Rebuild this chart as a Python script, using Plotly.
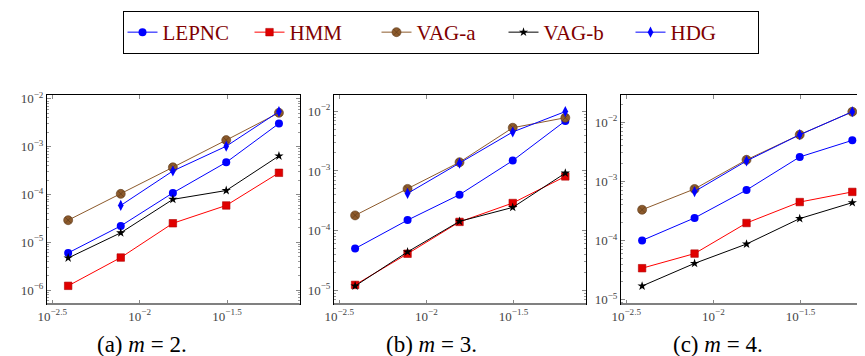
import plotly.graph_objects as go

# ---- data ----
h = [0.0039, 0.0078, 0.0155, 0.0313, 0.0627]
series_names = ["LEPNC", "HMM", "VAG-a", "VAG-b", "HDG"]

m2_lepnc = [6.0e-6, 2.2e-5, 1.08e-4, 4.7e-4, 3.05e-3]
m2_hmm = [1.23e-6, 4.8e-6, 2.5e-5, 5.9e-5, 2.84e-4]
m2_vaga = [2.9e-5, 1.03e-4, 3.7e-4, 1.37e-3, 5.1e-3]
m2_vagb = [4.7e-6, 1.58e-5, 7.9e-5, 1.21e-4, 6.4e-4]
m2_hdg = [None, 5.9e-5, 3.1e-4, 1.02e-3, 5.4e-3]

m3_lepnc = [5.0e-5, 1.5e-4, 4.0e-4, 1.49e-3, 6.9e-3]
m3_hmm = [1.23e-5, 4.1e-5, 1.4e-4, 2.9e-4, 8.1e-4]
m3_vaga = [1.8e-4, 5.0e-4, 1.4e-3, 5.3e-3, 7.8e-3]
m3_vagb = [1.18e-5, 4.4e-5, 1.43e-4, 2.45e-4, 9.2e-4]
m3_hdg = [None, 4.2e-4, 1.35e-3, 4.5e-3, 9.9e-3]

m4_lepnc = [1.0e-4, 2.4e-4, 7.1e-4, 2.57e-3, 4.9e-3]
m4_hmm = [3.4e-5, 6.0e-5, 1.97e-4, 4.45e-4, 6.6e-4]
m4_vaga = [3.3e-4, 7.4e-4, 2.3e-3, 6.1e-3, 1.49e-2]
m4_vagb = [1.7e-5, 4.1e-5, 8.7e-5, 2.34e-4, 4.35e-4]
m4_hdg = [None, 6.7e-4, 2.2e-3, 6.1e-3, 1.49e-2]

captions = ["(a) <i>m</i> = 2.", "(b) <i>m</i> = 3.", "(c) <i>m</i> = 4."]
x_tickvals = [10 ** -2.5, 10 ** -2, 10 ** -1.5]
x_ticktext = ["10<sup>\u22122.5</sup>", "10<sup>\u22122</sup>", "10<sup>\u22121.5</sup>"]

panels = [
    [m2_lepnc, m2_hmm, m2_vaga, m2_vagb, m2_hdg],
    [m3_lepnc, m3_hmm, m3_vaga, m3_vagb, m3_hdg],
    [m4_lepnc, m4_hmm, m4_vaga, m4_vagb, m4_hdg],
]
y_decades = [[-6, -5, -4, -3, -2], [-5, -4, -3, -2], [-5, -4, -3, -2]]

# ---- styles / layout ----
W, H = 865, 356
SERIF = "Liberation Serif, DejaVu Serif, serif"
styles = [
    dict(line=dict(color="#0000ff", width=1),
         marker=dict(symbol="circle", size=8, color="#0000ff", line=dict(width=0))),
    dict(line=dict(color="#ff0000", width=1),
         marker=dict(symbol="square", size=7.5, color="#e00000", line=dict(color="#b00000", width=0.6))),
    dict(line=dict(color="#8c5a2c", width=1),
         marker=dict(symbol="circle-x", size=9, color="#8c5a2c", line=dict(color="#5a3818", width=0.6))),
    dict(line=dict(color="#000000", width=1),
         marker=dict(symbol="star", size=7, color="#000000", line=dict(width=0))),
    dict(line=dict(color="#0000ff", width=1),
         marker=dict(symbol="diamond-tall", size=8, color="#0000ff", line=dict(width=0))),
]
x_dom_px = [(39, 291.7), (326, 578), (613, 865)]
y_dom = ((H - 296) / H, (H - 87) / H)
y_ranges = [(-6.29, -1.92), (-5.23, -1.727), (-5.073, -1.544)]
x_range = (-2.53, -1.084)
caption_center = [134, 423, 710]

fig = go.Figure()
tickfont = dict(family=SERIF, size=13, color="#444444")

for p, data in enumerate(panels):
    ax = "" if p == 0 else str(p + 1)
    for s, (name, vals) in enumerate(zip(series_names, data)):
        fig.add_trace(go.Scatter(
            x=h, y=vals, mode="lines+markers", name=name,
            legendgroup=name, showlegend=(p == 0),
            xaxis="x" + ax, yaxis="y" + ax, **styles[s]))
    minor_vals = [k * 10.0 ** d for d in range(-7, -1) for k in range(2, 10)]
    fig.layout["xaxis" + ax] = dict(
        type="log", range=list(x_range),
        domain=[x_dom_px[p][0] / W, x_dom_px[p][1] / W],
        anchor="y" + ax, showgrid=False, zeroline=False,
        showline=True, linecolor="#000000", linewidth=1, mirror="ticks",
        ticks="inside", ticklen=4, tickcolor="#888888", tickwidth=1,
        tickmode="array", tickvals=x_tickvals, ticktext=x_ticktext,
        tickfont=tickfont, automargin=False)
    fig.layout["yaxis" + ax] = dict(
        type="log", range=list(y_ranges[p]), domain=list(y_dom),
        anchor="x" + ax, showgrid=False, zeroline=False,
        showline=True, linecolor="#000000", linewidth=1, mirror="allticks",
        ticks="inside", ticklen=4, tickcolor="#888888", tickwidth=1,
        tickmode="array", tickvals=[10.0 ** d for d in y_decades[p]],
        ticktext=["10<sup>\u2212%d</sup>" % (-d) for d in y_decades[p]],
        tickfont=tickfont, automargin=False,
        minor=dict(ticks="inside", ticklen=2, tickcolor="#999999", tickwidth=1,
                   tickmode="array", tickvals=minor_vals, showgrid=False))
    # gray bottom axis line like the reference
    fig.add_shape(type="line", xref="x" + ax + " domain", yref="y" + ax + " domain",
                  x0=0, x1=1, y0=0, y1=0, line=dict(color="#808080", width=2))
    fig.add_annotation(text=captions[p], x=caption_center[p] / W, y=(H - 336) / H,
                       xref="paper", yref="paper", showarrow=False,
                       xanchor="center", yanchor="middle",
                       font=dict(family=SERIF, size=23, color="#000000"))

fig.update_layout(
    width=W, height=H, margin=dict(l=0, r=0, t=0, b=0, autoexpand=False),
    paper_bgcolor="white", plot_bgcolor="white",
    legend=dict(orientation="h", x=0.5, xanchor="center", y=1 - 3 / H, yanchor="top",
                bordercolor="#000000", borderwidth=1, bgcolor="white",
                font=dict(family=SERIF, size=21, color="#800000"),
                itemwidth=30, tracegroupgap=0,
                entrywidth=82, entrywidthmode="pixels"),
)

fig.write_html("out.html")
